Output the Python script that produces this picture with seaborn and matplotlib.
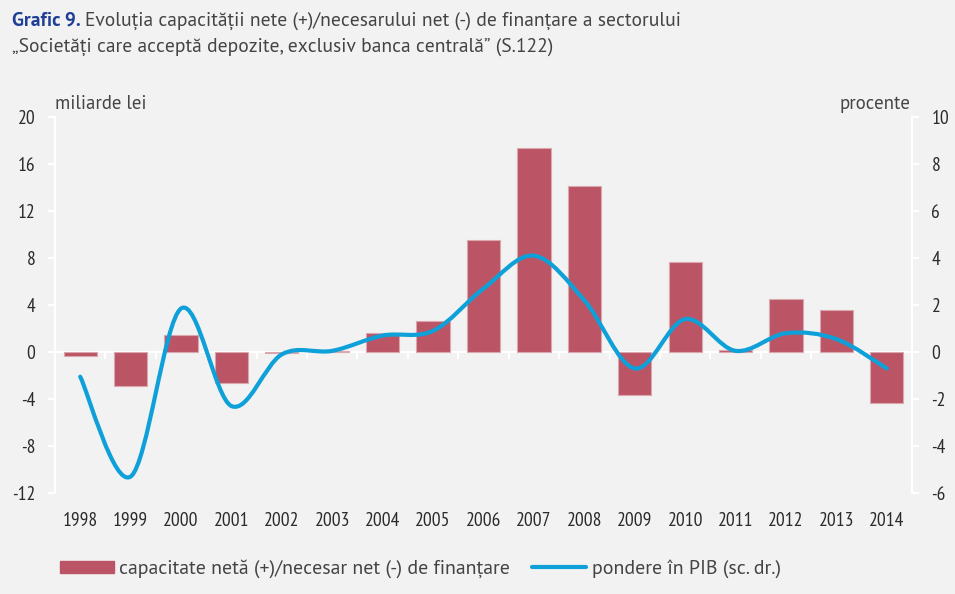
import numpy as np
import pandas as pd
import matplotlib
matplotlib.use('Agg')
import matplotlib.pyplot as plt
from matplotlib.path import Path
from matplotlib.patches import PathPatch, Patch
from matplotlib.lines import Line2D
import seaborn as sns

# --- date ---
ani = ['1998', '1999', '2000', '2001', '2002', '2003', '2004', '2005', '2006',
       '2007', '2008', '2009', '2010', '2011', '2012', '2013', '2014']
capacitate = [-0.3, -2.9, 1.45, -2.65, -0.1, 0.1, 1.6, 2.6, 9.5,
              17.4, 14.1, -3.7, 7.7, 0.2, 4.5, 3.6, -4.3]
pondere_pib = [-1.05, -5.3, 1.85, -2.3, -0.1, 0.05, 0.7, 0.9, 2.7,
               4.1, 2.2, -0.7, 1.4, 0.05, 0.8, 0.55, -0.7]

BG = '#f2f2f2'
BAR = '#bb5565'
LINE = '#0ea0d8'
TXT = '#2b2b2b'
GRI = '#444444'
TEXT_FONT = ['PT Sans', 'DejaVu Sans']
TICK_FONT = ['PT Sans Narrow', 'DejaVu Sans']

sns.set_theme(style='white')
plt.rcParams['font.family'] = TICK_FONT
plt.rcParams['axes.unicode_minus'] = False

fig = plt.figure(figsize=(9.55, 5.94), dpi=100, facecolor=BG)
ax = fig.add_axes([55 / 955, 1 - 493 / 594, 857 / 955, 376 / 594])
ax.set_facecolor(BG)

df = pd.DataFrame({'an': ani, 'val': capacitate})
sns.barplot(data=df, x='an', y='val', color=BAR, width=0.66, ax=ax,
            edgecolor='#dba7ae', linewidth=0.8, saturation=1)
ax.set_xlim(-0.5, len(ani) - 0.5)
ax.set_ylim(-12, 20)
ax.set_yticks(np.arange(-12, 21, 4))
ax.set_xlabel('')
ax.set_ylabel('')

for s in ['top', 'right', 'bottom']:
    ax.spines[s].set_visible(False)
ax.spines['left'].set_color('white')
ax.spines['left'].set_linewidth(1.5)
ax.tick_params(axis='y', colors='white', labelcolor=TXT, labelsize=14,
               length=5, width=1.5, direction='out', left=True, pad=9)
ax.tick_params(axis='x', length=0, labelsize=14, labelcolor=TXT, pad=14)

# linia de zero cu marcaje intre categorii
ax.axhline(0, color='white', lw=1.5, zorder=0.5)
sec = ax.secondary_xaxis(12 / 32)
sec.set_xticks(np.arange(-0.5, len(ani), 1))
sec.set_xticklabels([])
sec.tick_params(axis='x', direction='out', length=5, width=1.5, colors='white')
sec.spines['bottom'].set_visible(False)
sec.spines['top'].set_visible(False)

# axa dreapta - pondere in PIB
ax2 = ax.twinx()
ax2.set_ylim(-6, 10)
ax2.set_yticks(np.arange(-6, 11, 2))
for s in ['top', 'left', 'bottom']:
    ax2.spines[s].set_visible(False)
ax2.spines['right'].set_color('white')
ax2.spines['right'].set_linewidth(1.5)
ax2.tick_params(axis='y', colors='white', labelcolor=TXT, labelsize=14,
                length=5, width=1.5, direction='out', right=True, pad=9)
ax2.grid(False)
ax.grid(False)

# linie netezita (Bezier prin puncte, ca in Excel)
x = np.arange(len(ani), dtype=float)
y = np.array(pondere_pib, dtype=float)
xp = np.concatenate([[x[0]], x, [x[-1]]])
yp = np.concatenate([[y[0]], y, [y[-1]]])
verts = [(x[0], y[0])]
codes = [Path.MOVETO]
for i in range(len(x) - 1):
    j = i + 1
    c1 = (x[i] + (xp[j + 1] - xp[j - 1]) / 6, y[i] + (yp[j + 1] - yp[j - 1]) / 6)
    c2 = (x[i + 1] - (xp[j + 2] - xp[j]) / 6, y[i + 1] - (yp[j + 2] - yp[j]) / 6)
    verts += [c1, c2, (x[i + 1], y[i + 1])]
    codes += [Path.CURVE4] * 3
ax2.add_patch(PathPatch(Path(verts, codes), fill=False, edgecolor=LINE,
                        lw=3, capstyle='round', joinstyle='round', zorder=3))

# etichete axe
fig.text(55 / 955, 1 - 104 / 594, 'miliarde lei', fontsize=13.5, color=GRI,
         family=TEXT_FONT, va='center', ha='left')
fig.text(910 / 955, 1 - 104 / 594, 'procente', fontsize=13.5, color=GRI,
         family=TEXT_FONT, va='center', ha='right')

# titlu
t1 = fig.text(12 / 955, 1 - 21 / 594, 'Grafic 9.', fontsize=14, color='#1f3e96',
              fontweight='bold', family=TEXT_FONT, va='center')
fig.canvas.draw()
bb = t1.get_window_extent()
fig.text((bb.x1 + 4) / 955, 1 - 21 / 594,
         'Evoluția capacității nete (+)/necesarului net (-) de finanțare a sectorului',
         fontsize=14, color=GRI, family=TEXT_FONT, va='center')
fig.text(12 / 955, 1 - 47 / 594,
         '„Societăți care acceptă depozite, exclusiv banca centrală” (S.122)',
         fontsize=14, color=GRI, family=TEXT_FONT, va='center')

# legenda
handles = [Patch(facecolor=BAR, edgecolor=BAR),
           Line2D([0], [0], color=LINE, lw=3)]
labels = ['capacitate netă (+)/necesar net (-) de finanțare',
          'pondere în PIB (sc. dr.)']
fig.legend(handles, labels, loc='center left', bbox_to_anchor=(42 / 955, 1 - 569 / 594),
           ncol=2, frameon=False, handlelength=2.7, handleheight=0.6,
           handletextpad=0.3, columnspacing=1.1,
           prop={'family': TEXT_FONT, 'size': 14.3},
           labelcolor=GRI)

fig.savefig('out.png', dpi=100, facecolor=BG)
